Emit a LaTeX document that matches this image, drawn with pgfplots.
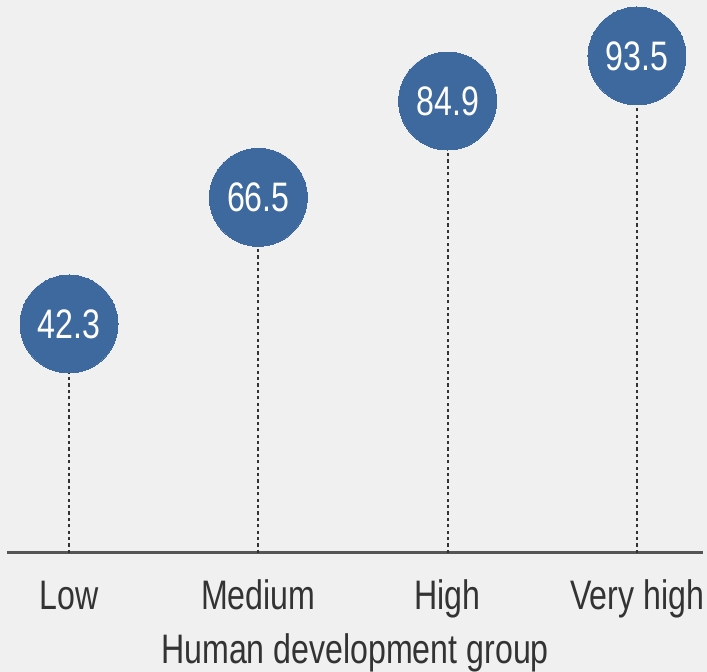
\documentclass[border=0pt]{standalone}
\usepackage{pgfplots}
\pgfplotsset{compat=1.18}
\usepackage{fontspec}
\setmainfont{Liberation Sans}[FakeStretch=0.78]
\usetikzlibrary{backgrounds}
\definecolor{bg}{RGB}{240,240,240}
\definecolor{dotblue}{RGB}{62,105,158}
\definecolor{axgray}{RGB}{85,85,85}
\definecolor{txtgray}{RGB}{51,51,51}
\begin{document}
\begin{tikzpicture}
\begin{axis}[
  name=ax,
  scale only axis,
  width=348pt, height=276.5pt,
  xmin=-0.3275, xmax=3.3487,
  ymin=-1.45, ymax=104.2,
  axis x line*=bottom,
  axis y line=none,
  axis line style={-, line width=1.5pt, axgray},
  xtick={0,1,2,3},
  xticklabels={Low,Medium,High,Very high},
  major tick length=0pt,
  ytick=\empty,
  xticklabel style={font=\fontsize{20.6}{24}\selectfont, text=txtgray, inner sep=0pt, text height=15pt, text depth=4pt, anchor=north, yshift=-13pt},
  xlabel={Human development group},
  xlabel style={at={(axis description cs:0.5,0)}, anchor=north, font=\fontsize{20.6}{24}\selectfont, text=txtgray, inner sep=0pt, text height=15pt, text depth=4pt, yshift=-40pt},
  clip=false,
]
\addplot[txtgray, line width=0.9pt, dash pattern=on 1.6pt off 1.6pt] coordinates {(0,-1.45) (0,42.3)};
\addplot[txtgray, line width=0.9pt, dash pattern=on 1.6pt off 1.6pt] coordinates {(1,-1.45) (1,66.5)};
\addplot[txtgray, line width=0.9pt, dash pattern=on 1.6pt off 1.6pt] coordinates {(2,-1.45) (2,84.9)};
\addplot[txtgray, line width=0.9pt, dash pattern=on 1.6pt off 1.6pt] coordinates {(3,-1.45) (3,93.5)};
\addplot[only marks, draw=dotblue, fill=dotblue, mark=*, mark size=24.5pt, mark options={fill=dotblue, draw=dotblue, line width=0pt},
  nodes near coords, point meta=explicit symbolic,
  every node near coord/.style={anchor=center, text=white, font=\fontsize{20.6}{24}\selectfont, inner sep=0pt, text depth=0pt}]
  coordinates {(0,42.3) [42.3] (1,66.5) [66.5] (2,84.9) [84.9] (3,93.5) [93.5]};
\end{axis}
\begin{scope}[on background layer]
\fill[bg] ([shift={(-3.5pt,-59.5pt)}]ax.south west) rectangle ([shift={(2pt,0pt)}]ax.north east);
\end{scope}
\pgfresetboundingbox
\path[use as bounding box] ([shift={(-3.5pt,-59.5pt)}]ax.south west) rectangle ([shift={(2pt,0pt)}]ax.north east);
\end{tikzpicture}
\end{document}
